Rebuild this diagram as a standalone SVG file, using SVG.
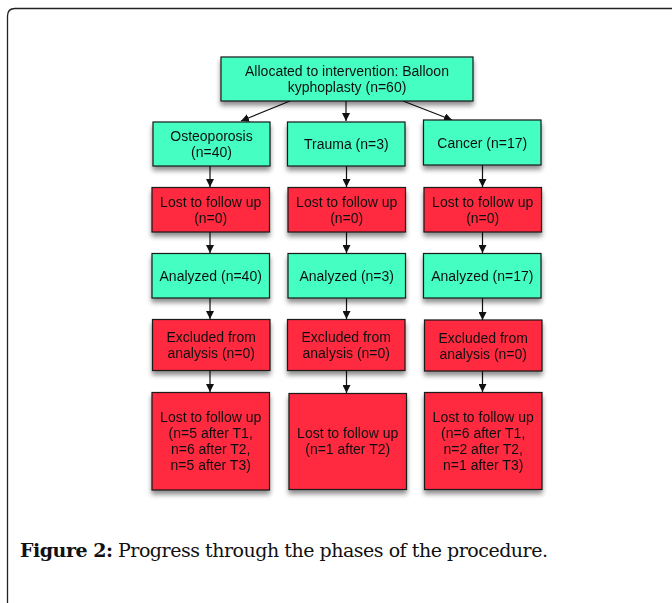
<svg xmlns="http://www.w3.org/2000/svg" width="672" height="603" viewBox="0 0 672 603">
<defs>
<style>
.g{fill:#44ffc2;stroke:#1a1a1a;stroke-width:1.2}
.r{fill:#ff2a40;stroke:#1a1a1a;stroke-width:1.2}
.t{font-family:"Liberation Sans",Arial,sans-serif;font-size:14px;fill:#111;text-anchor:middle}
.c{stroke:#111;stroke-width:1.2;fill:none;marker-end:url(#ah)}
</style>
<marker id="ah" viewBox="0 0 10 10" refX="10" refY="5" markerWidth="8" markerHeight="8" markerUnits="userSpaceOnUse" orient="auto">
<path d="M0,0 L10,5 L0,10 z" fill="#111"/>
</marker>
<filter id="sh" x="-20%" y="-20%" width="140%" height="150%">
<feGaussianBlur in="SourceAlpha" stdDeviation="2.5"/>
<feOffset dx="0" dy="4" result="b"/>
<feComponentTransfer><feFuncA type="linear" slope="0.45"/></feComponentTransfer>
<feMerge><feMergeNode/><feMergeNode in="SourceGraphic"/></feMerge>
</filter>
</defs>
<rect width="672" height="603" fill="#fff"/>
<path d="M7.5,620 L7.5,16 Q7.5,8.5 15,8.5 L690,8.5" fill="none" stroke="#222" stroke-width="1.3"/>

<g id="connectors">
<line class="c" x1="290" y1="101" x2="241" y2="121"/>
<line class="c" x1="346" y1="101" x2="346" y2="121"/>
<line class="c" x1="403" y1="101" x2="452" y2="120"/>
<line class="c" x1="210" y1="166" x2="210" y2="187"/>
<line class="c" x1="346.5" y1="166" x2="346.5" y2="187"/>
<line class="c" x1="482.5" y1="165" x2="482.5" y2="187"/>
<line class="c" x1="210" y1="232" x2="210" y2="253"/>
<line class="c" x1="346.5" y1="232" x2="346.5" y2="253"/>
<line class="c" x1="482.5" y1="232" x2="482.5" y2="253"/>
<line class="c" x1="210" y1="298" x2="210" y2="319"/>
<line class="c" x1="346.5" y1="298" x2="346.5" y2="319"/>
<line class="c" x1="482.5" y1="298" x2="482.5" y2="320"/>
<line class="c" x1="210" y1="370" x2="210" y2="392"/>
<line class="c" x1="346.5" y1="370" x2="346.5" y2="393"/>
<line class="c" x1="482.5" y1="371" x2="482.5" y2="392"/>
</g>

<g id="top" filter="url(#sh)">
<rect class="g" x="221" y="57" width="252" height="44"/>
<text class="t" x="347" y="75.5">Allocated to intervention: Balloon</text>
<text class="t" x="347" y="91.5">kyphoplasty (n=60)</text>
</g>

<g id="osteo" filter="url(#sh)">
<rect class="g" x="153" y="122" width="117" height="44"/>
<text class="t" x="211.5" y="140.5">Osteoporosis</text>
<text class="t" x="211.5" y="156.5">(n=40)</text>
</g>
<g id="trauma" filter="url(#sh)">
<rect class="g" x="287.5" y="122" width="117.5" height="44"/>
<text class="t" x="346.3" y="148.5">Trauma (n=3)</text>
</g>
<g id="cancer" filter="url(#sh)">
<rect class="g" x="423.5" y="120" width="117.5" height="45"/>
<text class="t" x="482.3" y="147.5">Cancer (n=17)</text>
</g>

<g id="lost1" filter="url(#sh)">
<rect class="r" x="152" y="187.5" width="117.5" height="44.5"/>
<text class="t" x="210.7" y="206.5">Lost to follow up</text>
<text class="t" x="210.7" y="222.5">(n=0)</text>
</g>
<g id="lost2" filter="url(#sh)">
<rect class="r" x="288" y="187.5" width="117.5" height="44.5"/>
<text class="t" x="346.7" y="206.5">Lost to follow up</text>
<text class="t" x="346.7" y="222.5">(n=0)</text>
</g>
<g id="lost3" filter="url(#sh)">
<rect class="r" x="424" y="187.5" width="117.5" height="44.5"/>
<text class="t" x="482.7" y="206.5">Lost to follow up</text>
<text class="t" x="482.7" y="222.5">(n=0)</text>
</g>

<g id="anal1" filter="url(#sh)">
<rect class="g" x="152" y="253.5" width="117.5" height="44.5"/>
<text class="t" x="210.7" y="280.5">Analyzed (n=40)</text>
</g>
<g id="anal2" filter="url(#sh)">
<rect class="g" x="288" y="253.5" width="117.5" height="44.5"/>
<text class="t" x="346.7" y="280.5">Analyzed (n=3)</text>
</g>
<g id="anal3" filter="url(#sh)">
<rect class="g" x="423.5" y="253.5" width="117.5" height="44.5"/>
<text class="t" x="482.3" y="280.5">Analyzed (n=17)</text>
</g>

<g id="excl1" filter="url(#sh)">
<rect class="r" x="152.5" y="319.5" width="117.5" height="51"/>
<text class="t" x="211.2" y="341.5">Excluded from</text>
<text class="t" x="211.2" y="357.5">analysis (n=0)</text>
</g>
<g id="excl2" filter="url(#sh)">
<rect class="r" x="287.5" y="319.5" width="117.5" height="51"/>
<text class="t" x="346.2" y="341.5">Excluded from</text>
<text class="t" x="346.2" y="357.5">analysis (n=0)</text>
</g>
<g id="excl3" filter="url(#sh)">
<rect class="r" x="424.5" y="320" width="117.5" height="51"/>
<text class="t" x="483.2" y="342.5">Excluded from</text>
<text class="t" x="483.2" y="358.5">analysis (n=0)</text>
</g>

<g id="fu1" filter="url(#sh)">
<rect class="r" x="152" y="392.5" width="117.5" height="97.5"/>
<text class="t" x="210.7" y="421.5">Lost to follow up</text>
<text class="t" x="210.7" y="437.5">(n=5 after T1,</text>
<text class="t" x="210.7" y="453.5">n=6 after T2,</text>
<text class="t" x="210.7" y="469.5">n=5 after T3)</text>
</g>
<g id="fu2" filter="url(#sh)">
<rect class="r" x="289" y="393.5" width="117.5" height="96"/>
<text class="t" x="347.7" y="437.5">Lost to follow up</text>
<text class="t" x="347.7" y="453.5">(n=1 after T2)</text>
</g>
<g id="fu3" filter="url(#sh)">
<rect class="r" x="424.5" y="392.5" width="117.5" height="97"/>
<text class="t" x="483.2" y="421.5">Lost to follow up</text>
<text class="t" x="483.2" y="437.5">(n=6 after T1,</text>
<text class="t" x="483.2" y="453.5">n=2 after T2,</text>
<text class="t" x="483.2" y="469.5">n=1 after T3)</text>
</g>

<text x="20" y="557" font-family="'DejaVu Serif','Liberation Serif',serif" font-size="19" fill="#111" textLength="528"><tspan font-weight="bold">Figure 2:</tspan> Progress through the phases of the procedure.</text>
</svg>
